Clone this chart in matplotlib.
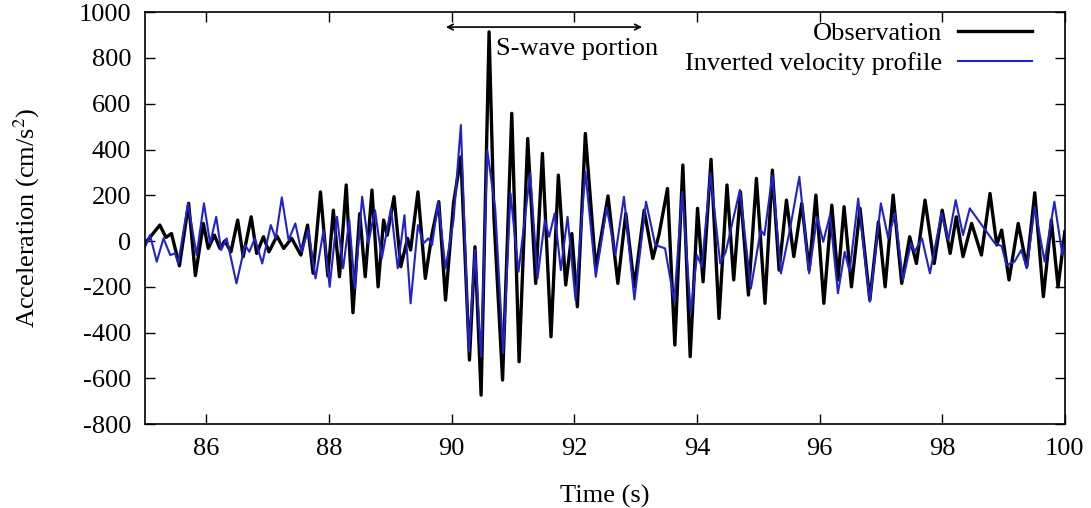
import matplotlib
matplotlib.use("Agg")
import matplotlib.pyplot as plt

# observed record: (time s, acceleration cm/s^2) read at the peaks/troughs
obs_t = [85.00, 85.24, 85.34, 85.43, 85.56, 85.71, 85.82, 85.95, 86.03, 86.13,
         86.22, 86.30, 86.40, 86.51, 86.60, 86.73, 86.82, 86.93, 87.02, 87.15,
         87.26, 87.39, 87.54, 87.65, 87.74, 87.86, 87.98, 88.07, 88.17, 88.28,
         88.39, 88.50, 88.59, 88.70, 88.80, 88.89, 88.95, 89.06, 89.17, 89.28,
         89.33, 89.45, 89.57, 89.68, 89.79, 89.90, 90.03, 90.15, 90.29, 90.38,
         90.48, 90.61, 90.69, 90.83, 90.98, 91.10, 91.24, 91.37, 91.48, 91.62,
         91.74, 91.86, 91.96, 92.05, 92.18, 92.35, 92.55, 92.71, 92.84, 92.98,
         93.14, 93.28, 93.38, 93.52, 93.64, 93.77, 93.89, 94.01, 94.10, 94.23,
         94.36, 94.49, 94.60, 94.71, 94.84, 94.97, 95.11, 95.23, 95.34, 95.46,
         95.58, 95.71, 95.83, 95.94, 96.07, 96.20, 96.30, 96.40, 96.52, 96.66,
         96.82, 96.96, 97.07, 97.20, 97.34, 97.47, 97.58, 97.72, 97.87, 98.00,
         98.13, 98.23, 98.34, 98.48, 98.64, 98.78, 98.89, 98.97, 99.09, 99.24,
         99.38, 99.51, 99.65, 99.78, 99.89, 100.0]
obs_a = [-10, 70, 16, 33, -108, 165, -151, 77, -32, 26,
         -32, 1, -47, 92, -68, 106, -54, 19, -47, 22,
         -32, 12, -61, 70, -141, 215, -153, 135, -156, 245,
         -313, 120, -156, 223, -200, 92, 26, 194, -112, 12,
         -39, 215, -163, 33, 172, -258, 165, 368, -520, -25,
         -673, 914, 100, -607, 558, -527, 448, -185, 383, -418,
         288, -192, 33, -287, 470, -119, 197, -185, 121, -199,
         135, -76, 26, 230, -454, 332, -505, 143, -178, 357,
         -338, 245, -170, 215, -236, 274, -272, 310, -127, 179,
         -68, 165, -127, 201, -272, 157, -170, 150, -200, 143,
         -258, 84, -200, 201, -185, 19, -98, 179, -98, 135,
         -54, 106, -68, 77, -61, 208, -17, 48, -170, 77,
         -112, 211, -243, 92, -200, 41]

# synthetic record from the inverted velocity profile
inv_t = [85.00, 85.08, 85.19, 85.30, 85.41, 85.49, 85.54, 85.70, 85.84, 85.96,
         86.06, 86.16, 86.24, 86.33, 86.49, 86.63, 86.70, 86.79, 86.91, 87.05,
         87.13, 87.23, 87.34, 87.45, 87.55, 87.66, 87.78, 87.91, 88.01, 88.13,
         88.23, 88.33, 88.42, 88.54, 88.64, 88.75, 88.86, 89.01, 89.12, 89.23,
         89.33, 89.45, 89.54, 89.62, 89.68, 89.78, 89.90, 90.03, 90.15, 90.28,
         90.38, 90.48, 90.58, 90.71, 90.84, 90.96, 91.09, 91.28, 91.40, 91.52,
         91.59, 91.68, 91.78, 91.89, 92.02, 92.18, 92.35, 92.53, 92.67, 92.81,
         92.98, 93.17, 93.32, 93.48, 93.63, 93.76, 93.90, 94.00, 94.08, 94.22,
         94.38, 94.47, 94.70, 94.88, 95.04, 95.10, 95.23, 95.37, 95.51, 95.67,
         95.83, 95.96, 96.06, 96.17, 96.30, 96.41, 96.49, 96.63, 96.82, 97.00,
         97.12, 97.23, 97.36, 97.49, 97.55, 97.67, 97.80, 97.99, 98.10, 98.22,
         98.34, 98.45, 98.86, 98.97, 99.05, 99.18, 99.29, 99.38, 99.51, 99.67,
         99.83, 99.96, 100.0]
inv_a = [-25, 26, -90, 12, -61, -54, -98, 165, -61, 165,
         -10, 106, -39, 12, -185, -17, -47, 12, -98, 70,
         12, 191, 4, 77, -47, 48, -163, 48, -200, 106,
         -119, 92, -207, 194, -10, 135, -76, 143, -119, 113,
         -272, 70, -10, 12, -17, 172, -119, 92, 507, -483,
         -39, -505, 397, 143, -490, 208, -134, 296, -163, 92,
         19, 121, -127, 106, -258, 303, -156, 147, -61, 194,
         -255, 172, -17, -32, -265, 215, -316, -61, -112, 296,
         -98, -47, 223, -207, 48, 26, 288, -141, 41, 281,
         -141, 106, -3, 113, -228, -47, -134, 186, -265, 165,
         12, 121, -170, -10, -47, 12, -141, 121, 4, 179,
         26, 143, -10, -22, -105, -90, -39, -119, 150, -90,
         172, -61, -3]

xticks = [86, 88, 90, 92, 94, 96, 98, 100]
yticks = [-800, -600, -400, -200, 0, 200, 400, 600, 800, 1000]

plt.rcParams['font.family'] = ['Liberation Serif', 'DejaVu Serif']
plt.rcParams['mathtext.fontset'] = 'stix'
plt.rcParams['axes.unicode_minus'] = False

fig = plt.figure(figsize=(10.91, 5.08), dpi=100)
ax = fig.add_axes([0.133, 0.165, 0.843, 0.811])

ax.plot(obs_t, obs_a, color='black', lw=2.4, solid_joinstyle='round',
        label='Observation')
ax.plot(inv_t, inv_a, color='#2222c8', lw=1.5, solid_joinstyle='round',
        label='Inverted velocity profile')

ax.set_xlim(85, 100)
ax.set_ylim(-800, 1000)
ax.set_xticks(xticks)
ax.set_yticks(yticks)
ax.tick_params(direction='in', length=7, width=1, top=True, right=True,
               labelsize=19, pad=10)
for s in ax.spines.values():
    s.set_linewidth(1.2)

ax.set_xlabel('Time (s)', fontsize=19, labelpad=18)
ax.set_ylabel('Acceleration (cm/s$^2$)', fontsize=19, labelpad=26)

# S-wave window marker
ax.annotate('', xy=(89.86, 935), xytext=(93.15, 935),
            arrowprops=dict(arrowstyle='<->', color='black', lw=1.2))
ax.text(90.72, 838, 'S-wave portion', fontsize=19, va='center', ha='left')

ax.legend(loc='upper right', bbox_to_anchor=(0.967, 0.983), frameon=False,
          markerfirst=False, fontsize=19, handlelength=2.8, handletextpad=0.6,
          borderaxespad=0, borderpad=0.1, labelspacing=0.25)

fig.savefig('out.png', dpi=100)
